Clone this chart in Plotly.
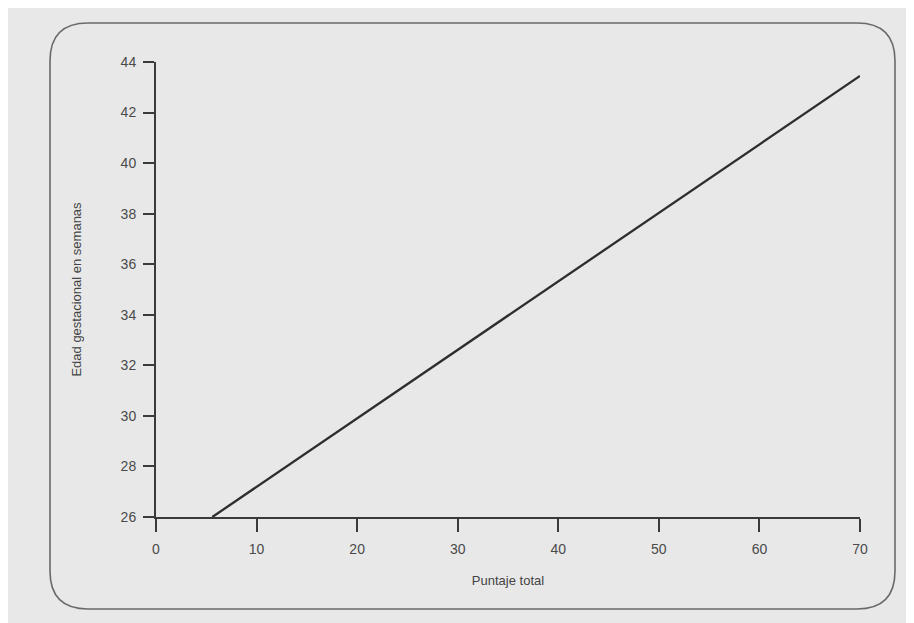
import plotly.graph_objects as go

# Data
puntaje = [5.6, 70]
edad = [26, 43.45]
x_ticks = [0, 10, 20, 30, 40, 50, 60, 70]
y_ticks = [26, 28, 30, 32, 34, 36, 38, 40, 42, 44]

OFF = 8  # page body margin
W, H = 914 - OFF, 623 - OFF
L, R, T, B = 156 - OFF, 860 - OFF, 62 - OFF, 517 - OFF

def px(x, y):
    x -= OFF
    y -= OFF
    return (x - L) / (R - L), (B - y) / (B - T)

def rounded_path(x0, y0, x1, y1, r):
    def p(x, y):
        a, b = px(x, y)
        return f"{a:.5f},{b:.5f}"
    s = f"M {p(x0 + r, y0)} L {p(x1 - r, y0)} Q {p(x1, y0)} {p(x1, y0 + r)} "
    s += f"L {p(x1, y1 - r)} Q {p(x1, y1)} {p(x1 - r, y1)} "
    s += f"L {p(x0 + r, y1)} Q {p(x0, y1)} {p(x0, y1 - r)} "
    s += f"L {p(x0, y0 + r)} Q {p(x0, y0)} {p(x0 + r, y0)} Z"
    return s

fig = go.Figure()
fig.add_trace(go.Scatter(x=puntaje, y=edad, mode="lines",
                         line=dict(color="#2e2e2e", width=2.3),
                         showlegend=False, hoverinfo="skip", cliponaxis=False))

shapes = [dict(type="path", xref="paper", yref="paper",
               path=rounded_path(50, 23, 895, 609, 38),
               line=dict(color="#6a6a6a", width=1.6), layer="below")]

fig.update_layout(
    width=W, height=H,
    margin=dict(l=L, r=W - R, t=T, b=H - B),
    paper_bgcolor="#e8e8e8", plot_bgcolor="#e8e8e8",
    font=dict(family="Liberation Sans, Arial, sans-serif", size=13, color="#444444"),
    shapes=shapes,
    xaxis=dict(range=[0, 70], tickvals=x_ticks, ticks="outside", ticklen=13, tickwidth=2,
               tickcolor="#3a3a3a", showline=True, linecolor="#3a3a3a", linewidth=2,
               showgrid=False, zeroline=False, tickfont=dict(size=14, color="#4a4a4a"),
               ticklabelstandoff=5,
               title=dict(text="Puntaje total", standoff=20, font=dict(size=13, color="#444"))),
    yaxis=dict(range=[26, 44], tickvals=y_ticks, ticks="outside", ticklen=11, tickwidth=1.5,
               tickcolor="#3a3a3a", showline=True, linecolor="#3a3a3a", linewidth=2,
               showgrid=False, zeroline=False, tickfont=dict(size=14, color="#4a4a4a"),
               ticklabelstandoff=4,
               title=dict(text="Edad gestacional en semanas", standoff=36,
                          font=dict(size=13, color="#444"))),
)

fig.write_html("out.html")
